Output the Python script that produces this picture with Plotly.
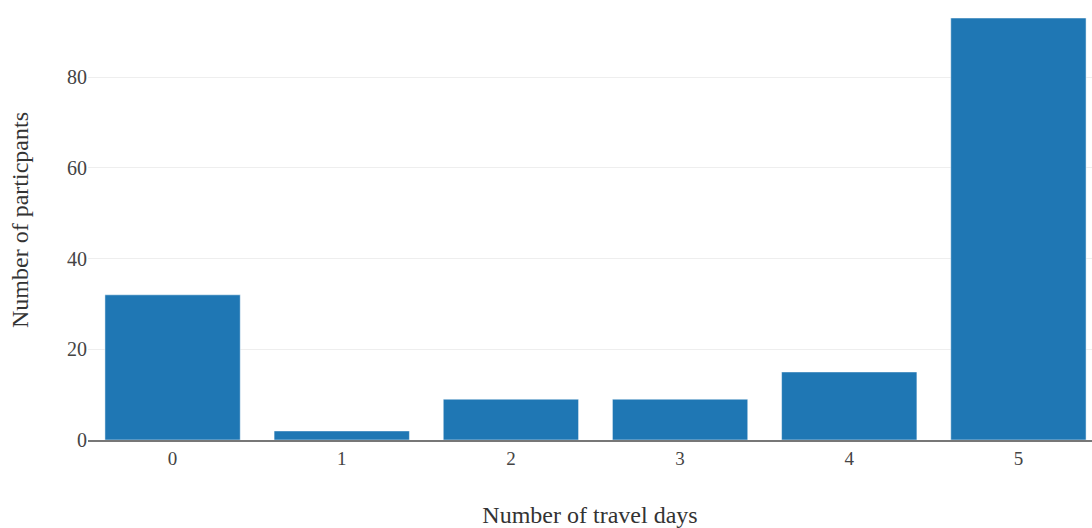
import plotly.graph_objects as go

travel_days = [0, 1, 2, 3, 4, 5]
participants = [32, 2, 9, 9, 15, 93]
y_ticks = [0, 20, 40, 60, 80]

font_family = "Liberation Serif, Times New Roman, serif"

fig = go.Figure(
    go.Bar(
        x=travel_days,
        y=participants,
        marker=dict(color="#1f77b4", line=dict(color="#ffffff", width=0.5)),
    )
)

fig.update_layout(
    width=1092,
    height=528,
    margin=dict(l=88, r=0, t=0, b=88),
    paper_bgcolor="white",
    plot_bgcolor="white",
    bargap=0.2,
    showlegend=False,
    font=dict(family=font_family, size=20, color="#444"),
)

fig.update_xaxes(
    range=[-0.5, 5.435],
    tickvals=travel_days,
    showgrid=False,
    showline=True,
    linecolor="#777",
    linewidth=1.5,
    zeroline=False,
    ticks="",
    tickfont=dict(size=19),
    title=dict(text="Number of travel days", font=dict(size=24, color="#333"), standoff=44),
)

fig.update_yaxes(
    range=[0, 96.97],
    tickvals=y_ticks,
    showgrid=True,
    gridcolor="#eeeeee",
    gridwidth=1,
    zeroline=False,
    ticks="",
    tickfont=dict(size=20),
    title=dict(text="Number of particpants", font=dict(size=24, color="#333"), standoff=31),
)

fig.write_html("out.html")
